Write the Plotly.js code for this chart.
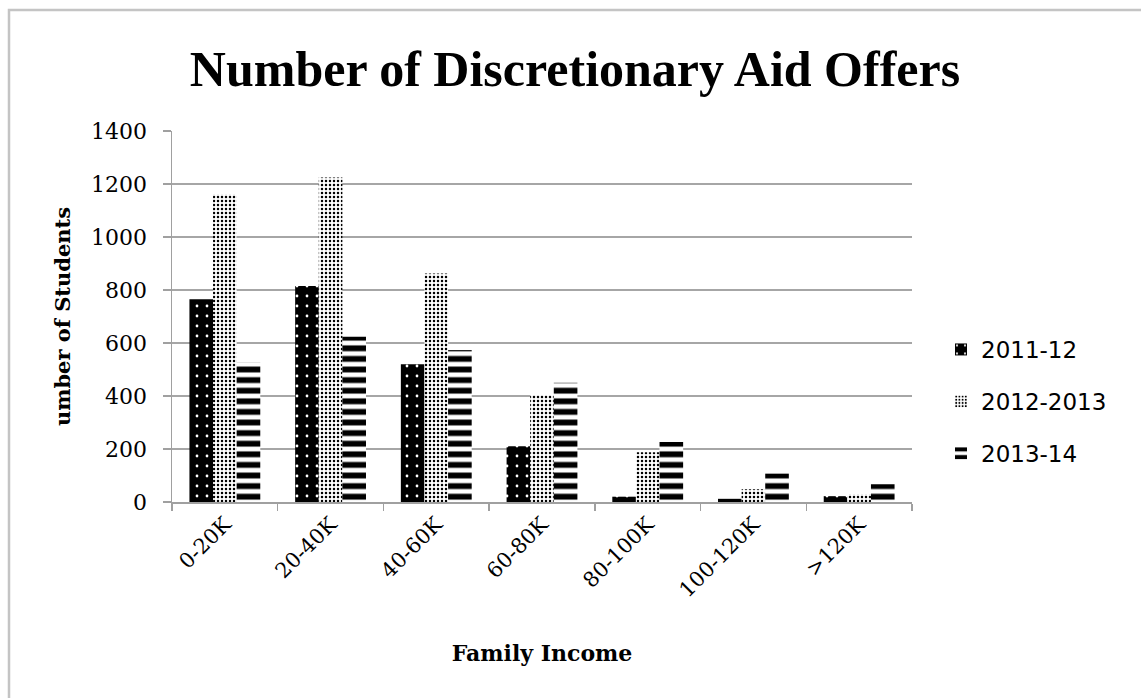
<!DOCTYPE html>
<html>
<head>
<meta charset="utf-8">
<script src="https://cdn.plot.ly/plotly-3.0.1.min.js"></script>
<style>
  html, body { margin: 0; padding: 0; background: #ffffff; }
  #chart { width: 1141px; height: 698px; }
</style>
</head>
<body>
<div id="chart"></div>
<script>
// Data
const categories = ['0-20K', '20-40K', '40-60K', '60-80K', '80-100K', '100-120K', '>120K'];
const seriesNames = ['2011-12', '2012-2013', '2013-14'];
const values2011 = [765, 815, 520, 210, 20, 12, 22];
const values2012 = [1160, 1225, 862, 404, 188, 48, 29];
const values2013 = [527, 624, 574, 450, 226, 107, 67];
const yTicks = [0, 200, 400, 600, 800, 1000, 1200, 1400];

const serif = 'DejaVu Serif, Liberation Serif, serif';

const traces = [
  {
    type: 'bar', name: seriesNames[0], x: categories, y: values2011,
    legendgroup: 'a',
    marker: {
      color: '#000000', line: {width: 0},
      pattern: {shape: '.', bgcolor: '#000000', fgcolor: '#ffffff', size: 10, solidity: 0.06, fillmode: 'replace'}
    }
  },
  {
    type: 'bar', name: seriesNames[1], x: categories, y: values2012,
    legendgroup: 'b',
    marker: {
      color: '#ffffff', line: {width: 0},
      pattern: {shape: '.', bgcolor: '#ffffff', fgcolor: '#000000', size: 4, solidity: 0.3, fillmode: 'replace'}
    }
  },
  {
    type: 'bar', name: seriesNames[2], x: categories, y: values2013,
    legendgroup: 'c',
    marker: {
      color: '#ffffff', line: {width: 0},
      pattern: {shape: '-', bgcolor: '#ffffff', fgcolor: '#000000', size: 10.6, solidity: 0.55, fillmode: 'replace'}
    }
  }
];

const L = 172, R = 912, T = 131, B = 502, W = 1141, H = 698;
const px2x = p => (p - L) / (R - L);
const py2y = p => (B - p) / (B - T);

const layout = {
  width: W, height: H,
  margin: {l: L, r: W - R, t: T, b: H - B, pad: 0},
  paper_bgcolor: '#ffffff',
  plot_bgcolor: '#ffffff',
  barmode: 'group',
  bargap: 0.33,
  bargroupgap: 0,
  title: {
    text: '<b>Number of Discretionary Aid Offers</b>',
    font: {family: 'Liberation Serif, DejaVu Serif, serif', size: 50, color: '#000000'},
    x: 575 / W, xanchor: 'center',
    y: 1 - 68 / H, yanchor: 'middle', yref: 'container'
  },
  xaxis: {
    type: 'category',
    showgrid: false,
    showline: true, linecolor: '#a0a0a0', linewidth: 1.5,
    ticks: 'outside', tickson: 'boundaries', ticklen: 7, tickcolor: '#a0a0a0', tickwidth: 1.5,
    tickangle: -45,
    tickfont: {family: serif, size: 21, color: '#000000'},
    title: {text: '<b>Family Income</b>', font: {family: serif, size: 22, color: '#000000'}, standoff: 44},
    automargin: false
  },
  yaxis: {
    range: [0, 1400],
    tickvals: yTicks,
    ticktext: yTicks.map(String),
    showgrid: true, gridcolor: '#a6a6a6', gridwidth: 1.5,
    zeroline: false,
    showline: true, linecolor: '#a0a0a0', linewidth: 1.5,
    ticks: 'outside', ticklen: 8, tickcolor: '#a0a0a0', tickwidth: 1.5,
    ticklabelstandoff: 11,
    tickfont: {family: serif, size: 22, color: '#000000'},
    title: {text: '<b>umber of Students</b>', font: {family: serif, size: 21, color: '#000000'}, standoff: 14},
    automargin: false
  },
  showlegend: true,
  legend: {
    x: px2x(941), xanchor: 'left',
    y: py2y(328), yanchor: 'top',
    traceorder: 'grouped',
    tracegroupgap: 19,
    font: {family: 'DejaVu Sans, sans-serif', size: 23, color: '#000000'},
    bgcolor: 'rgba(0,0,0,0)', borderwidth: 0
  },
  shapes: [
    {
      type: 'rect', xref: 'paper', yref: 'paper',
      x0: px2x(9), x1: px2x(1200), y0: py2y(760), y1: py2y(10),
      line: {color: '#c4c4c4', width: 2.5}, fillcolor: 'rgba(0,0,0,0)', layer: 'below'
    }
  ]
};

Plotly.newPlot('chart', traces, layout, {displayModeBar: false, staticPlot: true});
</script>
</body>
</html>
